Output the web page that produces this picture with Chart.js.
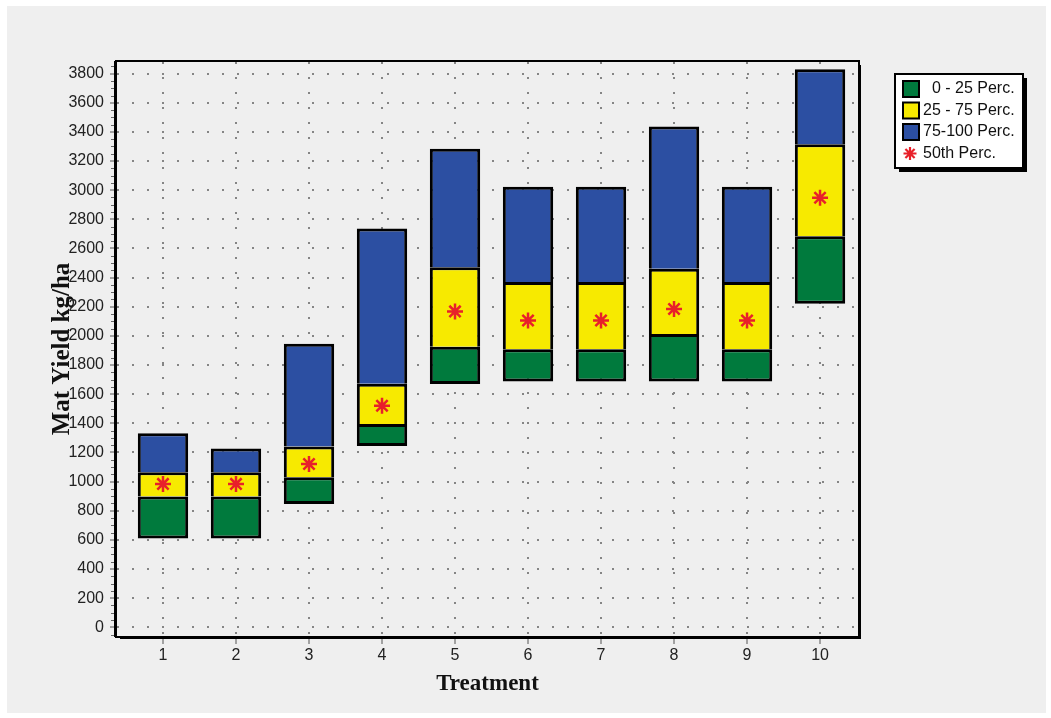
<!DOCTYPE html>
<html>
<head>
<meta charset="utf-8">
<script src="https://cdn.jsdelivr.net/npm/chart.js@4.4.1/dist/chart.umd.min.js"></script>
<style>
html, body { margin: 0; padding: 0; background: #ffffff; }
#wrap { width: 1051px; height: 718px; }
</style>
</head>
<body>
<div id="wrap"><canvas id="myChart" width="1051" height="718"></canvas></div>
<script>
// Données (rendement par traitement, en kg/ha)
var treatments = [1, 2, 3, 4, 5, 6, 7, 8, 9, 10];
var perc0 = [610, 610, 846, 1244, 1669, 1687, 1687, 1687, 1687, 2221];
var perc25 = [897, 897, 1030, 1396, 1925, 1909, 1909, 2013, 1909, 2684];
var perc50 = [984, 984, 1121, 1521, 2168, 2106, 2106, 2185, 2106, 2948];
var perc75 = [1064, 1064, 1241, 1671, 2471, 2370, 2370, 2460, 2370, 3315];
var perc100 = [1332, 1227, 1946, 2737, 3285, 3024, 3024, 3438, 3024, 3830];
var yTicks = [0, 200, 400, 600, 800, 1000, 1200, 1400, 1600, 1800, 2000, 2200, 2400, 2600, 2800, 3000, 3200, 3400, 3600, 3800];
var xTicks = [1, 2, 3, 4, 5, 6, 7, 8, 9, 10];
var seriesLabels = ['  0 - 25 Perc.', '25 - 75 Perc.', '75-100 Perc.', '50th Perc.'];

// Construit les barres flottantes [bas, haut] pour chaque traitement
function rangeData(low, high) {
    var d = [];
    for (var i = 0; i < treatments.length; i++) {
        d.push({ x: treatments[i], y: [low[i], high[i]] });
    }
    return d;
}

function pointData(values) {
    var d = [];
    for (var i = 0; i < treatments.length; i++) {
        d.push({ x: treatments[i], y: values[i] });
    }
    return d;
}

// Fond gris du panneau
var panelPlugin = {
    id: 'panel',
    beforeDraw: function (chart) {
        var ctx = chart.ctx;
        ctx.save();
        ctx.fillStyle = '#ffffff';
        ctx.fillRect(0, 0, chart.width, chart.height);
        ctx.fillStyle = '#efefef';
        ctx.fillRect(7, 6, 1039, 707);
        ctx.restore();
    }
};

// Cadre noir avec ombre autour de la zone du graphique, plus les petites graduations
var framePlugin = {
    id: 'frame',
    afterDraw: function (chart) {
        var a = chart.chartArea;
        var ctx = chart.ctx;
        var yScale = chart.scales.y;
        ctx.save();
        ctx.strokeStyle = '#666666';
        ctx.lineWidth = 1;
        ctx.beginPath();
        for (var v = -50; v <= 3850; v += 50) {
            if (v % 200 === 0) continue;
            var py = Math.round(yScale.getPixelForValue(v)) + 0.5;
            ctx.moveTo(a.left - 6, py);
            ctx.lineTo(a.left - 2, py);
        }
        ctx.stroke();

        ctx.fillStyle = '#000000';
        ctx.fillRect(a.right, a.top + 3, 3, a.bottom - a.top);
        ctx.fillRect(a.left + 3, a.bottom, a.right - a.left, 3);
        ctx.strokeStyle = '#000000';
        ctx.lineWidth = 2;
        ctx.strokeRect(a.left - 1, a.top - 1, a.right - a.left + 2, a.bottom - a.top + 2);
        ctx.fillRect(a.left - 3, a.top - 1, 2, a.bottom - a.top + 2);
        ctx.restore();
    }
};

// Légende encadrée à droite, construite à partir des jeux de données
var legendPlugin = {
    id: 'boxLegend',
    afterDraw: function (chart) {
        var ctx = chart.ctx;
        var x = 895, y = 74, w = 128, h = 94;
        ctx.save();
        ctx.fillStyle = '#000000';
        ctx.fillRect(x + 4, y + 4, w, h);
        ctx.fillStyle = '#ffffff';
        ctx.fillRect(x, y, w, h);
        ctx.strokeStyle = '#000000';
        ctx.lineWidth = 2;
        ctx.strokeRect(x, y, w, h);

        var items = chart.data.datasets.slice(1).concat([chart.data.datasets[0]]);
        ctx.font = '16px "Liberation Sans", Arial, sans-serif';
        ctx.textBaseline = 'middle';
        ctx.textAlign = 'left';
        for (var i = 0; i < items.length; i++) {
            var ds = items[i];
            var cy = y + 15 + i * 21.5;
            if (ds.type === 'scatter') {
                ctx.strokeStyle = ds.borderColor;
                ctx.lineWidth = 2.2;
                var r = 6.5;
                ctx.beginPath();
                for (var k = 0; k < 4; k++) {
                    var ang = k * Math.PI / 4;
                    ctx.moveTo(x + 15 - Math.cos(ang) * r, cy - Math.sin(ang) * r);
                    ctx.lineTo(x + 15 + Math.cos(ang) * r, cy + Math.sin(ang) * r);
                }
                ctx.stroke();
            } else {
                ctx.fillStyle = ds.backgroundColor;
                ctx.fillRect(x + 8, cy - 8, 16, 16);
                ctx.strokeStyle = '#000000';
                ctx.lineWidth = 2;
                ctx.strokeRect(x + 8, cy - 8, 16, 16);
            }
            ctx.fillStyle = '#111111';
            ctx.fillText(ds.label, x + 28, cy);
        }
        ctx.restore();
    }
};

var ctx = document.getElementById('myChart').getContext('2d');
var myChart = new Chart(ctx, {
    type: 'bar',
    data: {
        datasets: [
            {
                type: 'scatter',
                label: seriesLabels[3],
                data: pointData(perc50),
                pointStyle: 'star',
                radius: 8,
                borderWidth: 2.5,
                borderColor: '#e8202a',
                backgroundColor: '#e8202a',
                order: 0
            },
            {
                label: seriesLabels[0],
                data: rangeData(perc0, perc25),
                backgroundColor: '#007a3d',
                borderColor: '#000000',
                borderWidth: 3,
                borderSkipped: false,
                grouped: false,
                order: 1
            },
            {
                label: seriesLabels[1],
                data: rangeData(perc25, perc75),
                backgroundColor: '#f7ea00',
                borderColor: '#000000',
                borderWidth: 3,
                borderSkipped: 'bottom',
                grouped: false,
                order: 1
            },
            {
                label: seriesLabels[2],
                data: rangeData(perc75, perc100),
                backgroundColor: '#2c4fa2',
                borderColor: '#000000',
                borderWidth: 3,
                borderSkipped: 'bottom',
                grouped: false,
                order: 1
            }
        ]
    },
    options: {
        responsive: false,
        animation: false,
        devicePixelRatio: 1,
        events: [],
        barPercentage: 0.69,
        categoryPercentage: 1,
        layout: { padding: { left: 0, top: 62, right: 193, bottom: 0 } },
        plugins: {
            legend: { display: false },
            tooltip: { enabled: false }
        },
        scales: {
            x: {
                type: 'linear',
                min: 0.37,
                max: 10.52,
                offset: false,
                afterBuildTicks: function (scale) {
                    scale.ticks = xTicks.map(function (v) { return { value: v }; });
                },
                afterFit: function (scale) { scale.height = 82; },
                border: { display: false, dash: [2, 13] },
                grid: {
                    offset: false,
                    color: '#858585',
                    lineWidth: 2,
                    tickLength: 8,
                    tickBorderDash: [],
                    tickColor: '#555555',
                    tickWidth: 1
                },
                ticks: {
                    font: { family: '"Liberation Sans", Arial, sans-serif', size: 16 },
                    color: '#222222',
                    padding: 2,
                    maxRotation: 0,
                    callback: function (v) { return String(v); }
                },
                title: {
                    display: true,
                    text: 'Treatment',
                    font: { family: '"Liberation Serif", "Times New Roman", serif', size: 23, weight: 'bold' },
                    color: '#111111',
                    padding: { top: 0, bottom: 20 }
                }
            },
            y: {
                type: 'linear',
                min: -60,
                max: 3880,
                afterBuildTicks: function (scale) {
                    scale.ticks = yTicks.map(function (v) { return { value: v }; });
                },
                afterFit: function (scale) { scale.width = 117; },
                border: { display: false, dash: [2, 13] },
                grid: {
                    color: '#858585',
                    lineWidth: 2,
                    tickLength: 7,
                    tickBorderDash: [],
                    tickColor: '#555555',
                    tickWidth: 1
                },
                ticks: {
                    font: { family: '"Liberation Sans", Arial, sans-serif', size: 16 },
                    color: '#222222',
                    padding: 6,
                    callback: function (v) { return String(v); }
                },
                title: {
                    display: true,
                    text: 'Mat Yield kg/ha',
                    font: { family: '"Liberation Serif", "Times New Roman", serif', size: 25, weight: 'bold' },
                    color: '#111111',
                    padding: { top: 48, bottom: 0 }
                }
            }
        }
    },
    plugins: [panelPlugin, framePlugin, legendPlugin]
});
</script>
</body>
</html>
